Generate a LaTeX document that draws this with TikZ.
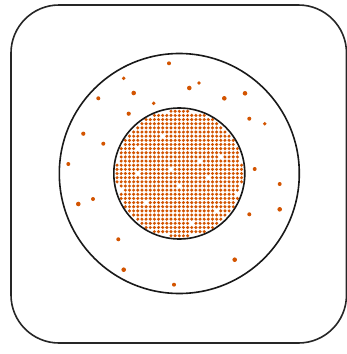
\documentclass[tikz,border=0pt]{standalone}
\usepackage{tikz}
\usepackage{xcolor}
\usetikzlibrary{calc}

\definecolor{dotorange}{HTML}{D35400}

\begin{document}
\begin{tikzpicture}[
  x=1pt, y=-1pt,
  frame/.style={draw=black!85, line width=1.6pt, rounded corners=48pt},
  ring/.style={draw=black!90, line width=1.6pt},
  griddot/.style={fill=dotorange},
  loosedot/.style={fill=dotorange}
]
\useasboundingbox (0,0) rectangle (346,354);

% outer frame and rings
\draw[frame] (11,5) rectangle (346.5,343);
\coordinate (mid) at (179.3,173.5);
\draw[ring] (mid) circle[radius=120pt];

% holes in the packed grid
\foreach \g in {-4/-9,-10/-6,10/-4,5/-3,-10/0,7/1,0/3,-14/4,14/5,-8/7,3/12,-2/-1,9/9}
  {\expandafter\gdef\csname gap\g\endcsname{}}

% packed core
\foreach \i in {-16,...,16}{
  \foreach \j in {-16,...,16}{
    \pgfmathsetmacro\rr{(\i*4.15)^2+(\j*4.15)^2}
    \ifdim\rr pt<4020pt
      \ifcsname gap\i/\j\endcsname\else
        \fill[griddot] ($(mid)+(\i*4.15,\j*4.15)$) circle[radius=1.7pt];
      \fi
    \fi
  }
}
\draw[ring] (mid) circle[radius=65.5pt];

% loose particles
\foreach \x/\y/\r in {169/63.3/2.0, 123.7/78.3/1.9, 189.3/88/2.3, 199/83/1.9,
  133.7/93/2.3, 98.3/98.3/2.0, 224.3/98.3/2.3, 245/93.3/2.3, 153.7/103.3/1.9,
  128.7/113.7/2.1, 249.3/118.7/2.0, 264.7/123.7/1.9, 83.3/133.7/2.1,
  103.3/143.7/2.0, 68.3/164/2.0, 254.7/169/2.0, 279.7/184/2.0, 93/199/2.0,
  78.3/204/2.3, 279.7/209.3/2.3, 249.3/214.3/2.0, 118.3/239.3/2.0,
  234.7/259.7/2.3, 123.7/269.7/2.3, 174/284.7/2.0}
  \fill[loosedot] (\x,\y) circle[radius=\r pt];
\end{tikzpicture}
\end{document}
